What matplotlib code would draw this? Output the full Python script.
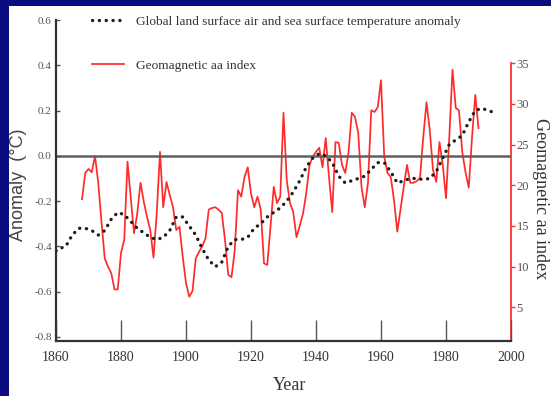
import matplotlib
matplotlib.use("Agg")
import matplotlib.pyplot as plt
from matplotlib.patches import Rectangle
import numpy as np

plt.rcParams['font.family'] = ['Liberation Serif', 'DejaVu Serif']

# ---------------- data ----------------
temp_years = [1860, 1861, 1863, 1865, 1867, 1869, 1871, 1873, 1875, 1877, 1879, 1881,
              1883, 1885, 1887, 1889, 1891, 1893, 1895, 1897, 1899, 1901, 1903, 1905,
              1907, 1909, 1911, 1913, 1915, 1917, 1919, 1921, 1923, 1925, 1927, 1929,
              1931, 1933, 1935, 1937, 1939, 1941, 1943, 1945, 1947, 1949, 1951, 1953,
              1955, 1957, 1959, 1961, 1963, 1965, 1967, 1969, 1971, 1973, 1975, 1977,
              1979, 1981, 1983, 1985, 1987, 1989, 1991, 1993, 1995]
temp_anom = [-0.42, -0.41, -0.40, -0.35, -0.32, -0.32, -0.33, -0.35, -0.33, -0.28, -0.25, -0.26,
             -0.29, -0.32, -0.34, -0.36, -0.37, -0.36, -0.33, -0.27, -0.27, -0.31, -0.35, -0.41,
             -0.46, -0.49, -0.47, -0.40, -0.37, -0.37, -0.36, -0.32, -0.30, -0.27, -0.25, -0.23,
             -0.20, -0.16, -0.11, -0.05, -0.01, 0.01, 0.00, -0.03, -0.09, -0.12, -0.11, -0.10,
             -0.09, -0.06, -0.03, -0.03, -0.07, -0.12, -0.11, -0.10, -0.10, -0.105, -0.10, -0.07,
             -0.01, 0.05, 0.07, 0.09, 0.15, 0.20, 0.21, 0.20, 0.19]

aa_years = list(range(1868, 1991))
aa_index = [18.3, 21.5, 22.0, 21.6, 23.6, 20.3, 15.5, 11.0, 10.0, 9.2,      # 1868-1877
            7.2, 7.2, 11.7, 13.3, 22.9, 18.5, 14.1, 16.5, 20.3, 18.0,      # 1878-1887
            16.1, 14.5, 11.1, 16.6, 24.1, 17.3, 20.4, 18.8, 17.3, 14.5,    # 1888-1897
            14.9, 11.2, 8.0, 6.3, 7.0, 11.0, 11.8, 12.5, 13.5, 17.0,       # 1898-1907
            17.2, 17.3, 17.0, 16.6, 13.3, 9.0, 8.7, 12.0, 19.4, 18.6,      # 1908-1917
            21.0, 22.2, 19.0, 17.3, 18.6, 17.0, 10.4, 10.2, 14.9, 19.8,    # 1918-1927
            17.8, 18.6, 28.9, 20.6, 17.8, 16.7, 13.6, 15.0, 16.5, 19.0,    # 1928-1937
            22.5, 23.5, 24.1, 24.6, 22.2, 25.8, 21.0, 16.7, 25.3, 25.2,    # 1938-1947
            22.5, 21.5, 24.0, 28.9, 28.4, 26.4, 19.8, 17.3, 20.3, 29.2,    # 1948-1957
            29.0, 29.6, 32.9, 23.5, 21.5, 21.0, 18.2, 14.3, 17.0, 19.8,    # 1958-1967
            22.5, 20.3, 20.3, 20.5, 20.9, 25.9, 30.2, 26.8, 21.9, 20.4,    # 1968-1977
            25.3, 22.5, 18.4, 25.8, 34.2, 29.5, 29.2, 24.1, 21.6, 19.7,    # 1978-1987
            25.8, 31.1, 27.0]                                              # 1988-1990

x_ticks = [1860, 1880, 1900, 1920, 1940, 1960, 1980, 2000]
x_labels = ['1860', '1880', '1900', '1920', '1940', '1960', '1980', '2000']
y_ticks = [-0.8, -0.6, -0.4, -0.2, 0.0, 0.2, 0.4, 0.6]
y_labels = ['-0.8', '-0.6', '-0.4', '-0.2', '0.0', '0.2', '0.4', '0.6']
aa_ticks = [5, 10, 15, 20, 25, 30, 35]
aa_labels = ['5', '10', '15', '20', '25', '30', '35']

temp_label = 'Global land surface air and sea surface temperature anomaly'
aa_label = 'Geomagnetic aa index'

# ---------------- figure ----------------
W, H = 551, 396
fig = plt.figure(figsize=(W / 100, H / 100), dpi=100)
fig.patch.set_facecolor('#0b0b82')
fig.add_artist(Rectangle((9 / W, 0), 1 - 9 / W, 1 - 6 / H, transform=fig.transFigure,
                         facecolor='white', edgecolor='none', zorder=-10))

ax = fig.add_axes([56 / W, 1 - 341 / H, (511 - 56) / W, (341 - 20) / H])
ax2 = ax.twinx()
ax.set_zorder(ax2.get_zorder() + 1)
ax.patch.set_visible(False)
ax2.patch.set_facecolor('white')

dark = '#333333'
grey = '#555555'

# zero line
ax.axhline(0.0, color='#606060', lw=1.8, zorder=1)

# temperature dots
temp_line, = ax.plot(temp_years, temp_anom, color='#1e1e1e', lw=2.4,
                     linestyle=(0, (0.05, 2.0)), dash_capstyle='round',
                     solid_capstyle='round', zorder=3)

# aa index
aa_line, = ax2.plot(aa_years, aa_index, color='#ff2a2a', lw=1.25, zorder=2)

ax.set_xlim(1860, 2000)
ax.set_ylim(-0.818, 0.6)
ax2.set_ylim(0.86, 40.3)

for s in ['top', 'right']:
    ax.spines[s].set_visible(False)
for s in ['top', 'left', 'bottom']:
    ax2.spines[s].set_visible(False)
ax.spines['left'].set_color(dark)
ax.spines['left'].set_linewidth(1.6)
ax.spines['bottom'].set_color(dark)
ax.spines['bottom'].set_linewidth(1.6)
ax2.spines['right'].set_color('#ff3030')
ax2.spines['right'].set_linewidth(1.3)
ax2.spines['right'].set_bounds(0.86, 35)

ax.set_xticks(x_ticks)
ax.set_xticklabels(x_labels)
ax.tick_params(axis='x', direction='in', length=15, width=1.0, color=grey,
               labelsize=10, labelcolor=dark, pad=7)
ax.set_yticks(y_ticks)
ax.set_yticklabels(y_labels)
ax.tick_params(axis='y', direction='in', length=3, width=1.0, color=grey,
               labelsize=8, labelcolor=grey, pad=3)
ax2.set_yticks(aa_ticks)
ax2.set_yticklabels(aa_labels)
ax2.tick_params(axis='y', direction='out', length=3, width=1.0, color='#ff3030',
                labelsize=9, labelcolor=grey, pad=1)

ax.set_xlabel('Year', fontsize=13, color=dark)
ax.xaxis.set_label_coords((290 - 56) / 455, (341 - 385) / 321)
ax.xaxis.label.set_va('center')

ax.set_ylabel('Anomaly  (\u00b0C)', fontsize=13, color='#444444',
              family=['Liberation Sans', 'DejaVu Sans'])
ax.yaxis.set_label_coords((19 - 56) / 455, (341 - 185) / 321)
ax.yaxis.label.set_va('center')

ax2.set_ylabel(aa_label, fontsize=13, color=dark, rotation=270)
ax2.yaxis.set_label_coords((541 - 56) / 455, (341 - 199) / 321)
ax2.yaxis.label.set_va('center')

leg = ax.legend([temp_line, aa_line], [temp_label, aa_label],
                loc='upper left', bbox_to_anchor=((92 - 56) / 455, 1.015),
                frameon=False, fontsize=9.6, handlelength=2.4, handletextpad=0.9,
                labelspacing=2.38, borderpad=0, borderaxespad=0)
for t in leg.get_texts():
    t.set_color(dark)

fig.savefig('out.png', dpi=100, facecolor=fig.get_facecolor())
